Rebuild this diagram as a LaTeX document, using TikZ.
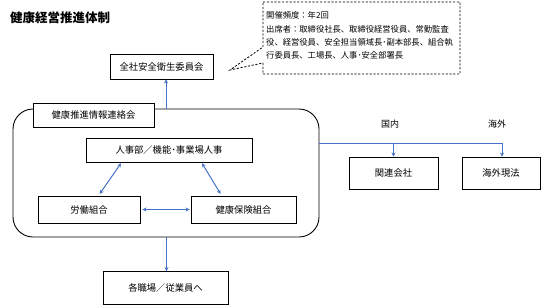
\documentclass[tikz,border=0pt]{standalone}
\usepackage{fontspec}
\setmainfont{Noto Sans CJK JP}
\usetikzlibrary{arrows.meta}
\definecolor{lineblue}{RGB}{68,114,196}
\tikzset{
  bx/.style={draw=black, line width=0.9pt, fill=white, inner sep=0pt,
    font=\fontsize{9.3}{11}\selectfont},
  blu/.style={draw=lineblue, line width=1pt},
  tip/.style={-{Stealth[length=4pt,width=4pt]}},
  dtip/.style={{Stealth[length=4pt,width=4pt]}-{Stealth[length=4pt,width=4pt]}},
  dashline/.style={draw=black, line width=0.8pt, dash pattern=on 2.2pt off 1.6pt},
  lbl/.style={inner sep=0pt, font=\fontsize{9}{11}\selectfont},
}
\begin{document}
\begin{tikzpicture}[x=1pt,y=-1pt]
\useasboundingbox (0,0) rectangle (543,306);
% title
\node[inner sep=0pt, anchor=west, font=\fontsize{12.5}{14}\selectfont\bfseries] (title) at (10,17.5) {健康経営推進体制};
% callout
\draw[dashline, fill=white] (263,2) -- (460,2) -- (460,74) -- (263,74) -- (263,63) -- (230,70) -- (263,47) -- cycle;
\node[inner sep=0pt, anchor=north west, align=left, font=\fontsize{8.3}{13.3}\selectfont] (note) at (266,11.5)
 {開催頻度：年2回\\出席者：取締役社長、取締役経営役員、常勤監査\\役、経営役員、安全担当領域長･副本部長、組合執\\行委員長、工場長、人事･安全部署長};
% boxes
\node[bx, minimum width=103pt, minimum height=25pt] (anzen) at (161.5,66.5) {全社安全衛生委員会};
\node[draw=black, line width=0.9pt, rounded corners=20pt, minimum width=306pt, minimum height=128pt, inner sep=0pt] (main) at (166,173) {};
\node[bx, minimum width=121pt, minimum height=24pt] (renraku) at (93.5,115) {健康推進情報連絡会};
\node[bx, minimum width=166pt, minimum height=24pt] (jinji) at (169,150) {人事部／機能･事業場人事};
\node[bx, minimum width=102pt, minimum height=27pt] (roudou) at (89,209.5) {労働組合};
\node[bx, minimum width=105pt, minimum height=27pt] (kenpo) at (243.5,209.5) {健康保険組合};
\node[bx, minimum width=89pt, minimum height=32pt] (kanren) at (393.5,173) {関連会社};
\node[bx, minimum width=78pt, minimum height=32pt] (kaigai) at (501,173) {海外現法};
\node[bx, minimum width=125pt, minimum height=33pt] (shokuba) at (165.5,288) {各職場／従業員へ};
% labels
\node[lbl] (kokunai) at (390,124) {国内};
\node[lbl] (kaigailbl) at (497,124) {海外};
% connectors
\coordinate (upx) at (166,0);
\coordinate (downx) at (166.5,0);
\coordinate (bry) at (0,143);
\coordinate (brend) at (502,143);
\draw[blu, tip] (main.north -| upx) -- (anzen.south -| upx);
\draw[blu, tip] (main.south -| downx) -- (shokuba.north -| downx);
\draw[blu] (main.east |- bry) -- (brend);
\draw[blu, tip] (kanren.north |- bry) -- (kanren.north);
\draw[blu, tip] (brend) -- (brend |- kaigai.north);
\draw[blu, dtip, shorten <=1pt, shorten >=2pt] ([xshift=36pt]jinji.south west) -- ([xshift=61pt]roudou.north west);
\draw[blu, dtip, shorten <=1pt, shorten >=2pt] ([xshift=116pt]jinji.south west) -- ([xshift=31pt]kenpo.north west);
\draw[blu, dtip, shorten <=2pt, shorten >=1pt] (roudou.east) -- (kenpo.west);
\end{tikzpicture}
\end{document}
